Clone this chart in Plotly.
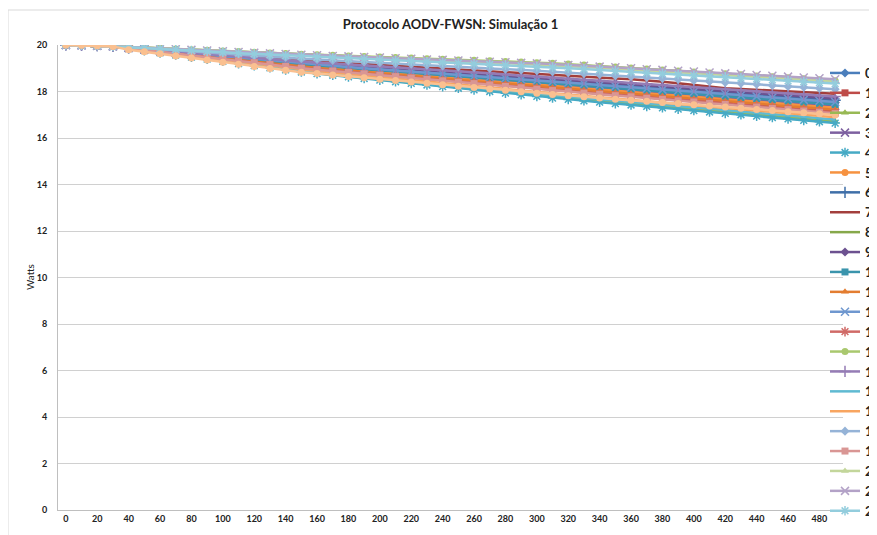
import plotly.graph_objects as go

# time axis (categories) and remaining energy per node
times = [0, 10, 20, 30, 40, 50, 60, 70, 80, 90, 100, 110, 120, 130, 140, 150, 160, 170, 180, 190,
         200, 210, 220, 230, 240, 250, 260, 270, 280, 290, 300, 310, 320, 330, 340, 350, 360, 370, 380, 390,
         400, 410, 420, 430, 440, 450, 460, 470, 480, 490]

node_00 = [20.00, 19.99, 19.97, 19.94, 19.88, 19.81, 19.75, 19.69, 19.62, 19.56, 19.50, 19.44, 19.37, 19.31, 19.25, 19.18,
           19.14, 19.09, 19.04, 18.99, 18.94, 18.89, 18.84, 18.79, 18.74, 18.69, 18.65, 18.60, 18.55, 18.50, 18.45, 18.40,
           18.35, 18.30, 18.25, 18.20, 18.16, 18.11, 18.06, 18.01, 17.96, 17.91, 17.86, 17.81, 17.76, 17.71, 17.67, 17.62, 17.57, 17.52]
node_01 = [20.00, 19.99, 19.97, 19.94, 19.86, 19.79, 19.71, 19.64, 19.56, 19.49, 19.41, 19.34, 19.26, 19.19, 19.11, 19.04,
           18.98, 18.92, 18.87, 18.81, 18.75, 18.69, 18.63, 18.58, 18.52, 18.46, 18.40, 18.34, 18.29, 18.23, 18.17, 18.11,
           18.06, 18.00, 17.95, 17.90, 17.84, 17.79, 17.73, 17.68, 17.63, 17.57, 17.52, 17.46, 17.41, 17.36, 17.30, 17.25, 17.19, 17.14]
node_02 = [20.00, 19.99, 19.97, 19.94, 19.85, 19.76, 19.67, 19.58, 19.49, 19.40, 19.31, 19.22, 19.13, 19.04, 18.95, 18.86,
           18.79, 18.72, 18.66, 18.59, 18.52, 18.45, 18.38, 18.32, 18.25, 18.18, 18.11, 18.04, 17.98, 17.91, 17.84, 17.77,
           17.71, 17.65, 17.59, 17.54, 17.48, 17.42, 17.36, 17.30, 17.24, 17.18, 17.12, 17.06, 17.00, 16.95, 16.89, 16.83, 16.77, 16.71]
node_03 = [20.00, 19.99, 19.97, 19.94, 19.87, 19.81, 19.74, 19.67, 19.60, 19.54, 19.47, 19.40, 19.34, 19.27, 19.20, 19.14,
           19.08, 19.03, 18.98, 18.93, 18.88, 18.82, 18.77, 18.72, 18.67, 18.62, 18.56, 18.51, 18.46, 18.41, 18.36, 18.30,
           18.25, 18.20, 18.15, 18.10, 18.05, 18.00, 17.95, 17.90, 17.84, 17.79, 17.74, 17.69, 17.64, 17.59, 17.54, 17.49, 17.44, 17.39]
node_04 = [20.00, 19.99, 19.97, 19.94, 19.85, 19.76, 19.66, 19.57, 19.48, 19.39, 19.30, 19.20, 19.11, 19.02, 18.93, 18.84,
           18.77, 18.70, 18.63, 18.56, 18.49, 18.42, 18.35, 18.28, 18.21, 18.14, 18.07, 18.00, 17.93, 17.86, 17.79, 17.72,
           17.66, 17.60, 17.54, 17.48, 17.42, 17.36, 17.30, 17.24, 17.18, 17.12, 17.06, 17.00, 16.94, 16.88, 16.82, 16.76, 16.70, 16.64]
node_05 = [20.00, 19.99, 19.97, 19.94, 19.87, 19.80, 19.73, 19.66, 19.59, 19.52, 19.45, 19.38, 19.31, 19.24, 19.17, 19.10,
           19.05, 18.99, 18.94, 18.88, 18.83, 18.78, 18.72, 18.67, 18.61, 18.56, 18.51, 18.45, 18.40, 18.34, 18.29, 18.24,
           18.18, 18.13, 18.08, 18.03, 17.98, 17.92, 17.87, 17.82, 17.77, 17.72, 17.66, 17.61, 17.56, 17.51, 17.46, 17.40, 17.35, 17.30]
node_06 = [20.00, 19.99, 19.97, 19.94, 19.88, 19.82, 19.76, 19.70, 19.65, 19.59, 19.53, 19.47, 19.41, 19.35, 19.29, 19.23,
           19.19, 19.14, 19.09, 19.04, 19.00, 18.95, 18.90, 18.86, 18.81, 18.76, 18.72, 18.67, 18.62, 18.57, 18.53, 18.48,
           18.43, 18.38, 18.34, 18.29, 18.24, 18.19, 18.14, 18.10, 18.05, 18.00, 17.95, 17.90, 17.86, 17.81, 17.76, 17.71, 17.66, 17.62]
node_07 = [20.00, 19.99, 19.97, 19.94, 19.89, 19.84, 19.79, 19.74, 19.69, 19.64, 19.59, 19.54, 19.49, 19.44, 19.39, 19.34,
           19.30, 19.26, 19.22, 19.18, 19.14, 19.10, 19.06, 19.02, 18.98, 18.94, 18.90, 18.86, 18.82, 18.78, 18.74, 18.70,
           18.67, 18.63, 18.60, 18.56, 18.53, 18.49, 18.42, 18.35, 18.28, 18.21, 18.14, 18.11, 18.07, 18.04, 18.00, 17.97, 17.94, 17.90]
node_08 = [20.00, 19.99, 19.97, 19.94, 19.91, 19.88, 19.85, 19.82, 19.79, 19.76, 19.73, 19.70, 19.67, 19.64, 19.61, 19.58,
           19.56, 19.53, 19.51, 19.48, 19.46, 19.43, 19.41, 19.38, 19.36, 19.33, 19.31, 19.28, 19.26, 19.23, 19.21, 19.18,
           19.14, 19.10, 19.07, 19.03, 18.99, 18.95, 18.91, 18.88, 18.84, 18.80, 18.76, 18.72, 18.69, 18.65, 18.61, 18.57, 18.53, 18.50]
node_09 = [20.00, 19.99, 19.97, 19.94, 19.88, 19.83, 19.77, 19.71, 19.66, 19.60, 19.54, 19.48, 19.43, 19.37, 19.31, 19.26,
           19.21, 19.17, 19.12, 19.08, 19.03, 18.99, 18.94, 18.90, 18.85, 18.81, 18.76, 18.72, 18.67, 18.63, 18.58, 18.54,
           18.49, 18.44, 18.40, 18.35, 18.30, 18.25, 18.21, 18.16, 18.11, 18.07, 18.02, 17.97, 17.93, 17.88, 17.83, 17.78, 17.74, 17.69]
node_10 = [20.00, 19.99, 19.97, 19.94, 19.88, 19.81, 19.75, 19.68, 19.62, 19.55, 19.49, 19.42, 19.36, 19.29, 19.23, 19.16,
           19.11, 19.06, 19.01, 18.96, 18.90, 18.85, 18.80, 18.75, 18.70, 18.65, 18.60, 18.55, 18.50, 18.45, 18.39, 18.34,
           18.29, 18.24, 18.19, 18.14, 18.09, 18.04, 17.99, 17.94, 17.89, 17.84, 17.79, 17.74, 17.69, 17.64, 17.59, 17.54, 17.49, 17.44]
node_11 = [20.00, 19.99, 19.97, 19.94, 19.87, 19.79, 19.72, 19.65, 19.57, 19.50, 19.43, 19.36, 19.28, 19.21, 19.14, 19.06,
           19.01, 18.95, 18.90, 18.84, 18.78, 18.73, 18.67, 18.62, 18.56, 18.50, 18.45, 18.39, 18.34, 18.28, 18.22, 18.17,
           18.11, 18.06, 18.01, 17.96, 17.90, 17.85, 17.80, 17.74, 17.69, 17.64, 17.58, 17.53, 17.48, 17.43, 17.37, 17.32, 17.27, 17.21]
node_12 = [20.00, 19.99, 19.97, 19.94, 19.88, 19.82, 19.75, 19.69, 19.63, 19.57, 19.51, 19.44, 19.38, 19.32, 19.26, 19.20,
           19.15, 19.10, 19.05, 19.00, 18.96, 18.91, 18.86, 18.81, 18.76, 18.72, 18.67, 18.62, 18.57, 18.52, 18.48, 18.43,
           18.38, 18.33, 18.28, 18.23, 18.18, 18.13, 18.08, 18.04, 17.99, 17.94, 17.89, 17.84, 17.79, 17.74, 17.69, 17.64, 17.60, 17.55]
node_13 = [20.00, 19.99, 19.97, 19.94, 19.86, 19.79, 19.71, 19.63, 19.55, 19.48, 19.40, 19.32, 19.25, 19.17, 19.09, 19.02,
           18.96, 18.90, 18.84, 18.78, 18.72, 18.66, 18.60, 18.54, 18.48, 18.43, 18.37, 18.31, 18.25, 18.19, 18.13, 18.07,
           18.02, 17.96, 17.91, 17.86, 17.80, 17.75, 17.69, 17.64, 17.59, 17.53, 17.48, 17.42, 17.37, 17.32, 17.26, 17.21, 17.15, 17.10]
node_14 = [20.00, 19.99, 19.97, 19.94, 19.91, 19.88, 19.86, 19.83, 19.80, 19.77, 19.74, 19.72, 19.69, 19.66, 19.63, 19.60,
           19.58, 19.56, 19.53, 19.51, 19.48, 19.46, 19.44, 19.41, 19.39, 19.36, 19.34, 19.32, 19.29, 19.27, 19.24, 19.22,
           19.18, 19.14, 19.09, 19.05, 19.01, 18.97, 18.93, 18.88, 18.84, 18.80, 18.76, 18.72, 18.67, 18.63, 18.59, 18.55, 18.51, 18.46]
node_15 = [20.00, 19.99, 19.97, 19.94, 19.89, 19.83, 19.78, 19.72, 19.67, 19.62, 19.56, 19.51, 19.45, 19.40, 19.35, 19.29,
           19.25, 19.21, 19.16, 19.12, 19.08, 19.03, 18.99, 18.95, 18.90, 18.86, 18.82, 18.78, 18.73, 18.69, 18.65, 18.60,
           18.56, 18.51, 18.47, 18.42, 18.37, 18.33, 18.28, 18.24, 18.19, 18.14, 18.10, 18.05, 18.01, 17.96, 17.91, 17.87, 17.82, 17.78]
node_16 = [20.00, 19.99, 19.97, 19.94, 19.85, 19.77, 19.68, 19.59, 19.50, 19.42, 19.33, 19.24, 19.16, 19.07, 18.98, 18.90,
           18.83, 18.76, 18.70, 18.63, 18.57, 18.50, 18.43, 18.37, 18.30, 18.24, 18.17, 18.10, 18.04, 17.97, 17.91, 17.84,
           17.78, 17.72, 17.67, 17.61, 17.55, 17.49, 17.43, 17.38, 17.32, 17.26, 17.20, 17.14, 17.09, 17.03, 16.97, 16.91, 16.85, 16.80]
node_17 = [20.00, 19.99, 19.97, 19.94, 19.86, 19.77, 19.69, 19.61, 19.52, 19.44, 19.36, 19.28, 19.19, 19.11, 19.03, 18.94,
           18.88, 18.82, 18.75, 18.69, 18.62, 18.56, 18.50, 18.43, 18.37, 18.30, 18.24, 18.18, 18.11, 18.05, 17.98, 17.92,
           17.86, 17.81, 17.75, 17.69, 17.63, 17.58, 17.52, 17.46, 17.41, 17.35, 17.29, 17.24, 17.18, 17.12, 17.06, 17.01, 16.95, 16.89]
node_18 = [20.00, 19.99, 19.97, 19.94, 19.90, 19.85, 19.81, 19.76, 19.72, 19.68, 19.63, 19.59, 19.54, 19.50, 19.46, 19.41,
           19.38, 19.34, 19.31, 19.27, 19.24, 19.20, 19.17, 19.13, 19.10, 19.06, 19.03, 18.99, 18.96, 18.92, 18.89, 18.85,
           18.81, 18.77, 18.73, 18.68, 18.64, 18.60, 18.56, 18.52, 18.47, 18.43, 18.39, 18.35, 18.31, 18.26, 18.22, 18.18, 18.14, 18.10]
node_19 = [20.00, 19.99, 19.97, 19.94, 19.86, 19.78, 19.71, 19.63, 19.55, 19.47, 19.39, 19.32, 19.24, 19.16, 19.08, 19.00,
           18.94, 18.88, 18.82, 18.76, 18.70, 18.64, 18.58, 18.52, 18.46, 18.40, 18.34, 18.28, 18.22, 18.16, 18.10, 18.04,
           17.99, 17.93, 17.88, 17.82, 17.77, 17.71, 17.66, 17.60, 17.55, 17.49, 17.44, 17.38, 17.33, 17.27, 17.22, 17.16, 17.11, 17.05]
node_20 = [20.00, 19.99, 19.97, 19.94, 19.91, 19.88, 19.85, 19.82, 19.79, 19.75, 19.72, 19.69, 19.66, 19.63, 19.60, 19.57,
           19.54, 19.51, 19.49, 19.46, 19.43, 19.41, 19.38, 19.35, 19.33, 19.30, 19.27, 19.24, 19.22, 19.19, 19.16, 19.14,
           19.10, 19.06, 19.02, 18.98, 18.94, 18.90, 18.86, 18.82, 18.79, 18.75, 18.71, 18.67, 18.63, 18.59, 18.55, 18.51, 18.47, 18.43]
node_21 = [20.00, 19.99, 19.97, 19.94, 19.91, 19.88, 19.85, 19.82, 19.79, 19.76, 19.73, 19.70, 19.67, 19.64, 19.61, 19.58,
           19.56, 19.53, 19.51, 19.48, 19.46, 19.43, 19.41, 19.38, 19.36, 19.33, 19.31, 19.28, 19.26, 19.23, 19.21, 19.18,
           19.14, 19.11, 19.07, 19.04, 19.00, 18.96, 18.93, 18.89, 18.86, 18.82, 18.78, 18.75, 18.71, 18.68, 18.64, 18.60, 18.57, 18.53]
node_22 = [20.00, 19.99, 19.97, 19.94, 19.90, 19.87, 19.83, 19.80, 19.76, 19.72, 19.69, 19.65, 19.62, 19.58, 19.54, 19.51,
           19.48, 19.45, 19.42, 19.39, 19.36, 19.33, 19.31, 19.28, 19.25, 19.22, 19.19, 19.16, 19.13, 19.10, 19.07, 19.04,
           19.00, 18.97, 18.93, 18.89, 18.85, 18.81, 18.77, 18.73, 18.69, 18.65, 18.62, 18.58, 18.54, 18.50, 18.46, 18.42, 18.38, 18.34]
node_23 = [20.00, 19.99, 19.97, 19.94, 19.80, 19.71, 19.62, 19.53, 19.44, 19.35, 19.26, 19.17, 19.08, 18.99, 18.91, 18.83,
           18.77, 18.71, 18.65, 18.59, 18.53, 18.47, 18.41, 18.35, 18.29, 18.23, 18.17, 18.11, 18.05, 17.99, 17.93, 17.87,
           17.82, 17.77, 17.72, 17.67, 17.62, 17.58, 17.53, 17.48, 17.43, 17.38, 17.33, 17.28, 17.23, 17.18, 17.13, 17.09, 17.04, 16.99]

series = [node_00, node_01, node_02, node_03, node_04, node_05, node_06, node_07,
          node_08, node_09, node_10, node_11, node_12, node_13, node_14, node_15,
          node_16, node_17, node_18, node_19, node_20, node_21, node_22, node_23]
names = [str(i) for i in range(24)]

# Excel 2007 style palette
colors = ['#4A7EBB', '#BE4B48', '#98B954', '#7D60A0', '#46AAC5', '#F69240',
          '#3F6FA8', '#A33F3C', '#86A84A', '#6C5190', '#3A94AC', '#E37D30',
          '#6F97CF', '#D06A67', '#A9C86E', '#957CB5', '#5FBAD2', '#F8A560',
          '#95B3D7', '#D99694', '#C3D69B', '#B3A2C7', '#93CDDD', '#FAC090']
symbols = ['diamond', 'square', 'triangle-up', 'x-thin-open', 'asterisk-open',
           'circle', 'cross-thin-open', None, None]

fig = go.Figure()
for i, (name, vals) in enumerate(zip(names, series)):
    sym = symbols[i % 9]
    col = colors[i]
    if sym is None:
        fig.add_trace(go.Scatter(x=times, y=vals, name=name, mode='lines',
                                 line=dict(color=col, width=2.5)))
    else:
        open_sym = sym.endswith('open')
        fig.add_trace(go.Scatter(
            x=times, y=vals, name=name, mode='lines+markers',
            line=dict(color=col, width=2.5),
            marker=dict(symbol=sym, size=8 if open_sym else 7, color=col,
                        line=dict(color=col, width=1.5 if open_sym else 0))))

font_family = 'Lato, "Open Sans", sans-serif'

# the page body adds an 8px offset, so the figure is sized to fill the rest
W, H = 869, 527
plot_l, plot_r, plot_t, plot_b = 50, 835, 37, 502

fig.update_layout(
    width=W, height=H,
    autosize=False,
    paper_bgcolor='white',
    plot_bgcolor='white',
    font=dict(family=font_family, color='#222222'),
    margin=dict(l=plot_l, r=W - plot_r, t=plot_t, b=H - plot_b, autoexpand=False),
    title=dict(text='<b>Protocolo AODV-FWSN: Simulação 1</b>',
               x=0.5, xref='paper', xanchor='center',
               y=1 - 16 / H, yref='container', yanchor='middle',
               font=dict(size=13, color='#222222')),
    xaxis=dict(range=[-5, 495], tick0=0, dtick=20, showgrid=False,
               zeroline=False, showline=True, linecolor='#BFBFBF', linewidth=1,
               ticks='', tickfont=dict(size=9, weight='bold')),
    yaxis=dict(range=[0, 20], dtick=2, showgrid=True, gridcolor='#D0D0D0',
               zeroline=False, showline=True, linecolor='#BFBFBF', linewidth=1,
               ticks='', ticklabelstandoff=8, tickfont=dict(size=9, weight='bold')),
    legend=dict(x=(817 - plot_l) / 785, xanchor='left', y=(plot_b - 50) / 465, yanchor='top',
                bgcolor='rgba(0,0,0,0)', font=dict(size=13, weight='bold'),
                itemclick=False),
    annotations=[dict(text='Watts', x=(22 - plot_l) / 785, y=(plot_b - 269) / 465,
                      xref='paper', yref='paper', xanchor='center', yanchor='middle',
                      showarrow=False, textangle=-90, font=dict(size=10))],
    shapes=[dict(type='rect', xref='paper', yref='paper',
                 x0=-plot_l / 785, x1=1.2, y0=-0.2, y1=(plot_b - 2) / 465,
                 line=dict(color='#D9D9D9', width=1), layer='below')],
)

fig.write_html('out.html')
